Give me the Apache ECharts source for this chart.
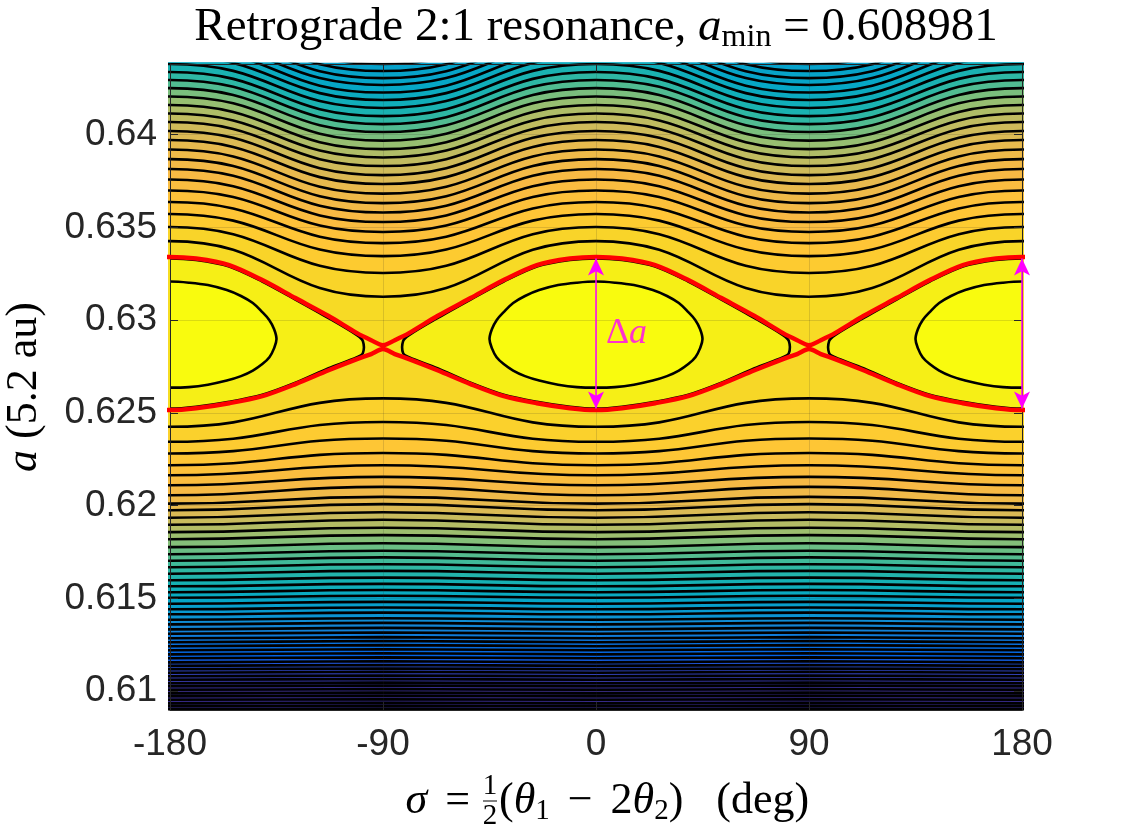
<!DOCTYPE html>
<html>
<head>
<meta charset="utf-8">
<title>Retrograde 2:1 resonance</title>
<script src="https://cdn.jsdelivr.net/npm/echarts@6.0.0/dist/echarts.min.js"></script>
<style>
  html, body { margin: 0; padding: 0; background: #fff; }
  #chart { width: 1132px; height: 829px; }
</style>
</head>
<body>
<div id="chart"></div>
<script>
// contour lines above the island, nearest first: a at sigma = 0, +-180 and at sigma = +-90
const upperA0 = [0.63426, 0.63502, 0.63572, 0.63637, 0.63699, 0.63758, 0.63815, 0.63868, 0.6392, 0.63971,
    0.6402, 0.64068, 0.64114, 0.6416, 0.64206, 0.64251, 0.64295, 0.64338, 0.64381, 0.64424,
    0.64465, 0.64505, 0.64543, 0.6458, 0.64618];
const upperA90 = [0.63126, 0.63254, 0.63345, 0.63415, 0.63475, 0.63529, 0.6358, 0.63631, 0.63682, 0.63734,
    0.63782, 0.63831, 0.63877, 0.63922, 0.63968, 0.64014, 0.64057, 0.641, 0.64144, 0.64187,
    0.64227, 0.64268, 0.64305, 0.64343, 0.64381];

// contour lines below the island, nearest first
const lowerA0 = [0.62425, 0.62344, 0.62281, 0.62218, 0.62164, 0.6211, 0.62056, 0.62011, 0.61975, 0.61935,
    0.61897, 0.61857, 0.61819, 0.61776, 0.61738, 0.61703, 0.61668, 0.61633, 0.61598, 0.61565,
    0.61533, 0.61503, 0.61471, 0.61441, 0.61414, 0.61385, 0.6136, 0.61333, 0.61309, 0.61285,
    0.61263, 0.61242, 0.6122, 0.61198, 0.61177, 0.61155, 0.61136, 0.61118, 0.61099, 0.6108,
    0.61061, 0.61042, 0.61026, 0.61007, 0.60988, 0.60972, 0.60953, 0.60934, 0.60918, 0.60902];
const lowerA90 = [0.62578, 0.62451, 0.62362, 0.62284, 0.62218, 0.62155, 0.62101, 0.62047, 0.62008, 0.61964,
    0.61924, 0.61881, 0.61841, 0.61797, 0.61757, 0.61721, 0.61684, 0.61648, 0.61612, 0.61578,
    0.61545, 0.61514, 0.61481, 0.61451, 0.61423, 0.61393, 0.61368, 0.61341, 0.61316, 0.61291,
    0.6127, 0.61248, 0.61226, 0.61204, 0.61182, 0.61161, 0.61141, 0.61122, 0.61104, 0.61084,
    0.61065, 0.61046, 0.6103, 0.61011, 0.60992, 0.60975, 0.60956, 0.60937, 0.60921, 0.60904];
const periodSigma = [-270, -180, -90, 0, 90, 180, 270];

// separatrix (red), upper and lower branches
const sepSigma = [-191, -180, -169, -155, -141, -127, -113, -101, -95, -90, -85, -79, -67, -53, -39, -25, -11,
    0, 11, 25, 39, 53, 67, 79, 85, 90, 95, 101, 113, 127, 141, 155, 169, 180, 191];
const sepUpper = [0.63332, 0.63341, 0.63332, 0.63297, 0.63216, 0.63119, 0.63022, 0.6293, 0.62892, 0.62865,
    0.62892, 0.6293, 0.63022, 0.63119, 0.63216, 0.63297, 0.63332, 0.63341, 0.63332, 0.63297,
    0.63216, 0.63119, 0.63022, 0.6293, 0.62892, 0.62865, 0.62892, 0.6293, 0.63022, 0.63119,
    0.63216, 0.63297, 0.63332, 0.63341, 0.63332];
const sepLower = [0.62525, 0.62515, 0.62525, 0.62552, 0.6259, 0.62655, 0.6273, 0.6279, 0.62817, 0.62844,
    0.62817, 0.6279, 0.6273, 0.62655, 0.6259, 0.62552, 0.62525, 0.62515, 0.62525, 0.62552,
    0.6259, 0.62655, 0.6273, 0.6279, 0.62817, 0.62844, 0.62817, 0.6279, 0.6273, 0.62655,
    0.6259, 0.62552, 0.62525, 0.62515, 0.62525];

// closed curves inside the island, sigma measured from each island centre
const islandCentres = [-180, 0, 180];
const lensSigma = [-81.5, -79, -67, -53, -39, -25, -11, 0, 11, 25, 39, 53, 67, 79, 81.5,
    81.5, 79, 67, 53, 39, 25, 11, 0, -11, -25, -39, -53, -67, -79, -81.5];
const lensA = [0.62887, 0.62919, 0.63011, 0.63111, 0.63208, 0.63289, 0.63324, 0.63333, 0.63324, 0.63289,
    0.63208, 0.63111, 0.63011, 0.62919, 0.62887,
    0.62822, 0.628, 0.62741, 0.62663, 0.62598, 0.6256, 0.62533, 0.62523, 0.62533, 0.6256,
    0.62598, 0.62663, 0.62741, 0.628, 0.62822];
const ellipseSigma = [-45, -44, -42, -39, -35, -30, -24, -16, -8, 0, 8, 16, 24, 30, 35, 39, 42, 44, 45,
    44, 42, 39, 35, 30, 24, 16, 8, 0, -8, -16, -24, -30, -35, -39, -42, -44];
const ellipseA = [0.62898, 0.62951, 0.63, 0.63043, 0.63092, 0.6313, 0.63162, 0.63189, 0.63202, 0.63208,
    0.63202, 0.63189, 0.63162, 0.6313, 0.63092, 0.63043, 0.63, 0.62951, 0.62898,
    0.62849, 0.628, 0.62763, 0.62728, 0.62698, 0.62674, 0.62652, 0.62639, 0.62636, 0.62639,
    0.62652, 0.62674, 0.62698, 0.62728, 0.62763, 0.628, 0.62849];

// delta a arrows
const arrowSigma = [0, 180];
const arrowA = [0.62524, 0.63333];
const deltaLabel = [4.0, 0.62927];

const xTickValues = [-180, -90, 0, 90, 180];
const yTickValues = [0.61, 0.615, 0.62, 0.625, 0.63, 0.635, 0.64];
const aMin = 0.608981;
const aMax = 0.64381;

const serif = '"Liberation Serif", "Times New Roman", serif';
const sans = '"Liberation Sans", Arial, sans-serif';
const axisColor = '#262626';

// parula colour map
const parulaStops = [
    [0.000, [53, 42, 135]], [0.063, [50, 67, 186]], [0.095, [32, 83, 212]], [0.127, [3, 99, 225]],
    [0.190, [13, 117, 220]], [0.254, [20, 133, 212]], [0.317, [9, 152, 209]], [0.381, [6, 167, 198]],
    [0.444, [21, 177, 180]], [0.508, [56, 185, 158]], [0.571, [101, 190, 134]], [0.635, [146, 191, 115]],
    [0.698, [183, 189, 100]], [0.762, [217, 186, 86]], [0.825, [248, 186, 68]], [0.857, [255, 195, 55]],
    [0.889, [252, 206, 46]], [0.921, [247, 216, 38]], [0.952, [245, 228, 29]], [0.984, [246, 243, 19]],
    [1.000, [249, 251, 14]]
];
function parula(t) {
    t = Math.max(0, Math.min(1, t));
    for (let i = 1; i < parulaStops.length; i++) {
        if (t <= parulaStops[i][0]) {
            const p = parulaStops[i - 1], q = parulaStops[i];
            const f = (t - p[0]) / (q[0] - p[0]);
            const c = p[1].map((v, k) => Math.round(v + (q[1][k] - v) * f));
            return 'rgb(' + c.join(',') + ')';
        }
    }
    return 'rgb(249,251,14)';
}

// colour level of a band, by its height a
const levelStops = [
    [0.6080, 0.0], [0.61004, 0.0], [0.61112, 0.07], [0.6122, 0.15], [0.61328, 0.24], [0.61436, 0.33],
    [0.61544, 0.42], [0.61662, 0.50], [0.61749, 0.57], [0.61824, 0.64], [0.61894, 0.71], [0.61948, 0.76],
    [0.62002, 0.80], [0.6211, 0.83], [0.62272, 0.87], [0.62396, 0.90], [0.62515, 0.93],
    [0.63341, 0.93], [0.63432, 0.92], [0.63566, 0.87], [0.63755, 0.83], [0.63928, 0.80], [0.64052, 0.74],
    [0.64144, 0.68], [0.6423, 0.60], [0.64305, 0.50], [0.64386, 0.43], [0.6451, 0.37], [0.6470, 0.34]
];
function bandColor(a) {
    if (a <= levelStops[0][0]) return parula(levelStops[0][1]);
    for (let i = 1; i < levelStops.length; i++) {
        if (a <= levelStops[i][0]) {
            const p = levelStops[i - 1], q = levelStops[i];
            return parula(p[1] + (q[1] - p[1]) * (a - p[0]) / (q[0] - p[0]));
        }
    }
    return parula(levelStops[levelStops.length - 1][1]);
}

const contourWidth = 2.6;

function contourLine(a0, a90, fill) {
    return {
        type: 'line', silent: true, symbol: 'none', smooth: 0.5, z: 2,
        data: periodSigma.map((s, i) => [s, i % 2 ? a0 : a90]),
        lineStyle: { color: '#000', width: contourWidth },
        areaStyle: { color: fill, opacity: 1, origin: 'start' }
    };
}

function loopCurves(sig, aa, fill, smooth) {
    return {
        type: 'custom', silent: true, clip: true, z: 2,
        data: islandCentres.map(c => [c, aa[0]]),
        renderItem: function (params, api) {
            const c = islandCentres[params.dataIndex];
            return {
                type: 'polygon',
                shape: { points: sig.map((s, i) => api.coord([c + s, aa[i]])), smooth: smooth },
                style: { fill: fill, stroke: '#000', lineWidth: contourWidth }
            };
        }
    };
}

const sepTop = sepUpper[sepSigma.indexOf(0)];
const sepBottom = sepLower[sepSigma.indexOf(0)];
const series = [];

for (let j = upperA0.length - 1; j >= 0; j--) {
    const above = j === 0 ? sepTop : upperA0[j - 1];
    series.push(contourLine(upperA0[j], upperA90[j], bandColor((upperA0[j] + above) / 2)));
}
series.push({
    type: 'line', silent: true, symbol: 'none', smooth: 0.3, z: 2,
    data: sepSigma.map((s, i) => [s, sepUpper[i]]),
    lineStyle: { opacity: 0 },
    areaStyle: { color: parula(0.95), opacity: 1, origin: 'start' }
});
series.push(loopCurves(lensSigma, lensA, parula(0.975), 0.3));
series.push(loopCurves(ellipseSigma, ellipseA, parula(1), 0.35));
series.push({
    type: 'line', silent: true, symbol: 'none', smooth: 0.3, z: 2,
    data: sepSigma.map((s, i) => [s, sepLower[i]]),
    lineStyle: { opacity: 0 },
    areaStyle: { color: bandColor((sepBottom + lowerA0[0]) / 2), opacity: 1, origin: 'start' }
});
for (let j = 0; j < lowerA0.length; j++) {
    const below = j + 1 < lowerA0.length ? lowerA0[j + 1] : aMin;
    series.push(contourLine(lowerA0[j], lowerA90[j], bandColor((lowerA0[j] + below) / 2)));
}
[sepUpper, sepLower].forEach(branch => {
    series.push({
        type: 'line', silent: true, symbol: 'none', smooth: 0.3, z: 4,
        data: sepSigma.map((s, i) => [s, branch[i]]),
        lineStyle: { color: '#ff0000', width: 4.5 }
    });
});
series.push({
    type: 'line', silent: true, symbol: 'none', data: [], clip: false, z: 5,
    markLine: {
        silent: true, animation: false,
        symbol: ['arrow', 'arrow'], symbolSize: [12, 17],
        lineStyle: { color: '#ff00ff', width: 1.5, type: 'solid' },
        label: { show: false },
        data: arrowSigma.map(s => [{ coord: [s, arrowA[0]] }, { coord: [s, arrowA[1]] }])
    }
});
series.push({
    type: 'scatter', silent: true, symbolSize: 1, z: 5,
    itemStyle: { color: 'rgba(0,0,0,0)' },
    data: [deltaLabel],
    label: {
        show: true, position: 'right', distance: 0,
        formatter: '{d|Δ}{a|a}',
        rich: {
            d: { fontFamily: serif, fontSize: 36, color: '#ff00ff' },
            a: { fontFamily: serif, fontSize: 36, fontStyle: 'italic', color: '#ff00ff' }
        }
    }
});

function xAxisOpt(pos, labels) {
    return {
        type: 'value', position: pos, min: -180, max: 180, interval: 90, z: 3,
        axisLine: { show: true, onZero: false, lineStyle: { color: axisColor, width: 1 } },
        axisTick: { show: true, inside: true, length: 8, lineStyle: { color: axisColor } },
        axisLabel: {
            show: labels, margin: 16, fontFamily: sans, fontSize: 37, color: axisColor, lineHeight: 37,
            formatter: v => xTickValues.includes(v) ? String(v) : ''
        },
        splitLine: { show: labels, lineStyle: { color: 'rgba(38,38,38,0.15)', width: 1 } }
    };
}
function yAxisOpt(pos, labels) {
    return {
        type: 'value', position: pos, min: aMin, max: aMax, splitNumber: 7, z: 3,
        axisLine: { show: true, onZero: false, lineStyle: { color: axisColor, width: 1 } },
        axisTick: { show: true, inside: true, length: 8, lineStyle: { color: axisColor } },
        axisLabel: {
            show: labels, margin: 13, fontFamily: sans, fontSize: 37, color: axisColor,
            showMinLabel: false, showMaxLabel: false,
            formatter: v => {
                const t = yTickValues.find(y => Math.abs(y - v) < 1e-7);
                return t === undefined ? '' : String(t);
            }
        },
        splitLine: { show: labels, lineStyle: { color: 'rgba(38,38,38,0.15)', width: 1 } }
    };
}

const subRich = {
    i: { fontFamily: serif, fontSize: 44, fontStyle: 'italic', lineHeight: 50 },
    s: { fontFamily: serif, fontSize: 29, lineHeight: 25, verticalAlign: 'bottom' },
    e: { fontFamily: serif, fontSize: 44, lineHeight: 50, padding: [0, 12, 0, 18] },
    m: { fontFamily: serif, fontSize: 44, lineHeight: 50, padding: [0, 18, 0, 18] }
};

const chart = echarts.init(document.getElementById('chart'));
chart.setOption({
    animation: false,
    backgroundColor: '#ffffff',
    grid: { left: 170, right: 110, top: 64, bottom: 119, show: true, borderWidth: 0,
        backgroundColor: bandColor(0.6455) },
    xAxis: [xAxisOpt('bottom', true), xAxisOpt('top', false)],
    yAxis: [yAxisOpt('left', true), yAxisOpt('right', false)],
    series: series,
    graphic: [
        {
            type: 'text', x: 596, y: 28, z: 10,
            style: {
                text: 'Retrograde 2:1 resonance, {i|a}{s|min} = 0.608981',
                fontFamily: serif, fontSize: 47, lineHeight: 52, fill: '#000',
                align: 'center', verticalAlign: 'middle',
                rich: {
                    i: { fontFamily: serif, fontSize: 47, fontStyle: 'italic', lineHeight: 52 },
                    s: { fontFamily: serif, fontSize: 32, lineHeight: 27, verticalAlign: 'bottom' }
                }
            }
        },
        {
            type: 'text', x: 24, y: 387, rotation: Math.PI / 2, z: 10,
            style: {
                text: '{i|a} (5.2 au)', fontFamily: serif, fontSize: 44, lineHeight: 50, fill: '#000',
                align: 'center', verticalAlign: 'middle', rich: subRich
            }
        },
        {
            type: 'text', x: 482, y: 801, z: 10,
            style: {
                text: '{i|σ}{e|=}', fontFamily: serif, fontSize: 44, lineHeight: 50, fill: '#000',
                align: 'right', verticalAlign: 'middle', rich: subRich
            }
        },
        {
            type: 'text', x: 490, y: 786, z: 10,
            style: { text: '1', fontFamily: serif, fontSize: 29, fill: '#000', align: 'center', verticalAlign: 'middle' }
        },
        {
            type: 'line', z: 10, shape: { x1: 483, y1: 801, x2: 497, y2: 801 },
            style: { stroke: '#000', lineWidth: 1 }
        },
        {
            type: 'text', x: 490, y: 816, z: 10,
            style: { text: '2', fontFamily: serif, fontSize: 29, fill: '#000', align: 'center', verticalAlign: 'middle' }
        },
        {
            type: 'text', x: 499, y: 801, z: 10,
            style: {
                text: '({i|θ}{s|1}{m|−}2{i|θ}{s|2})   (deg)', fontFamily: serif, fontSize: 44, lineHeight: 50,
                fill: '#000', align: 'left', verticalAlign: 'middle', rich: subRich
            }
        }
    ]
});

window.addEventListener('resize', () => chart.resize());
</script>
</body>
</html>
